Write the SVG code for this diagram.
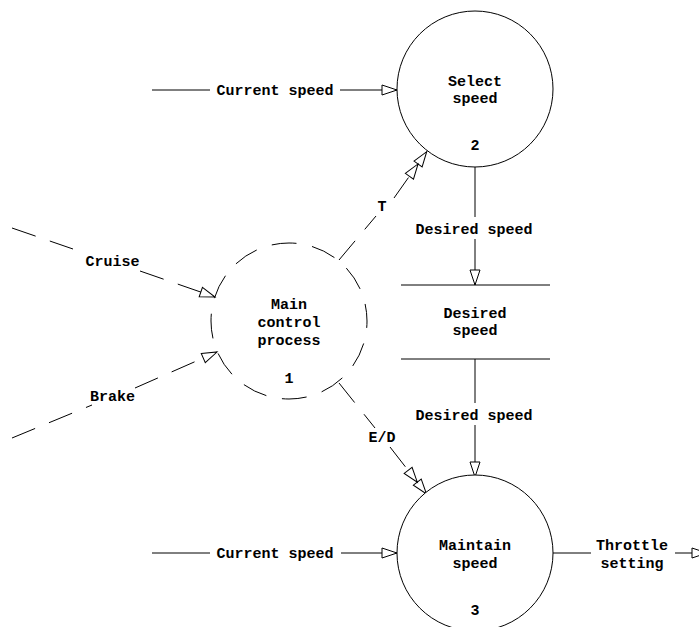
<svg xmlns="http://www.w3.org/2000/svg" width="699" height="627" viewBox="0 0 699 627">
  <style>
    text { font-family: "Liberation Mono", "Courier New", monospace; font-weight: bold; font-size: 15px; fill: #000; text-anchor: middle; }
    .proc { fill: #fff; stroke: #000; stroke-width: 1; }
    .ctrl { fill: none; stroke: #000; stroke-width: 1; stroke-dasharray: 25 15.84; stroke-dashoffset: 18; }
    .flow { fill: none; stroke: #000; stroke-width: 1; }
    .dflow { fill: none; stroke: #000; stroke-width: 1; stroke-dasharray: 25 15; }
    .store { stroke: #000; stroke-width: 1; }
  </style>
  <defs>
    <marker id="arrow" markerUnits="userSpaceOnUse" markerWidth="16" markerHeight="12" refX="15" refY="5" orient="auto" overflow="visible">
      <path d="M0,0 L15,5 L0,10 Z" fill="#fff" stroke="#000" stroke-width="1"/>
    </marker>
    <marker id="arrow2" markerUnits="userSpaceOnUse" markerWidth="31" markerHeight="12" refX="30" refY="5" orient="auto" overflow="visible">
      <path d="M0,0 L15,5 L0,10 Z M15,0 L30,5 L15,10 Z" fill="#fff" stroke="#000" stroke-width="1"/>
    </marker>
  </defs>
  <rect width="699" height="627" fill="#fff"/>

  <!-- connectors -->
  <g id="connectors">
    <path class="flow" d="M152,90 H210 M340,90 H397" marker-end="url(#arrow)"/>
    <path class="flow" d="M475,167 V217 M475,239 V285" marker-end="url(#arrow)"/>
    <path class="flow" d="M475,359 V403 M475,425 V477" marker-end="url(#arrow)"/>
    <path class="flow" d="M152,553 H210 M341,553 H397" marker-end="url(#arrow)"/>
    <path class="flow" d="M553,553 H591 M675,553 H707" marker-end="url(#arrow)"/>
    <path class="dflow" d="M12,228 L73,249 M140,271 L215,297" marker-end="url(#arrow)"/>
    <path class="dflow" d="M12,438 L92,405 M135,388 L217,352" marker-end="url(#arrow)"/>
    <path class="dflow" d="M339,260 L376,216 M394,198 L426.7,151.7" marker-end="url(#arrow2)"/>
    <path class="dflow" d="M339,383 L375,428 M390,447 L426.5,494" marker-end="url(#arrow2)"/>
  </g>

  <!-- edge labels -->
  <g id="edge-labels">
    <text x="275" y="94.5">Current speed</text>
    <text x="112.5" y="266">Cruise</text>
    <text x="112.5" y="401">Brake</text>
    <text x="382" y="210.5">T</text>
    <text x="382" y="442">E/D</text>
    <text x="474" y="234">Desired speed</text>
    <text x="474" y="420">Desired speed</text>
    <text x="275" y="557.5">Current speed</text>
    <text x="632" y="550">Throttle</text>
    <text x="632" y="567.5">setting</text>
  </g>

  <g id="node-select-speed">
    <circle class="proc" cx="475" cy="89" r="78"/>
    <text x="475" y="86">Select</text>
    <text x="475" y="103">speed</text>
    <text x="475" y="150">2</text>
  </g>

  <g id="node-main-control">
    <circle class="ctrl" cx="289" cy="321" r="78"/>
    <text x="289" y="309">Main</text>
    <text x="289" y="327">control</text>
    <text x="289" y="345">process</text>
    <text x="289" y="382.5">1</text>
  </g>

  <g id="store-desired-speed">
    <line class="store" x1="401" y1="285" x2="550" y2="285"/>
    <line class="store" x1="401" y1="359" x2="550" y2="359"/>
    <text x="475" y="318">Desired</text>
    <text x="475" y="335">speed</text>
  </g>

  <g id="node-maintain-speed">
    <circle class="proc" cx="475" cy="553" r="78"/>
    <text x="475" y="550">Maintain</text>
    <text x="475" y="567.5">speed</text>
    <text x="475" y="615">3</text>
  </g>
</svg>
